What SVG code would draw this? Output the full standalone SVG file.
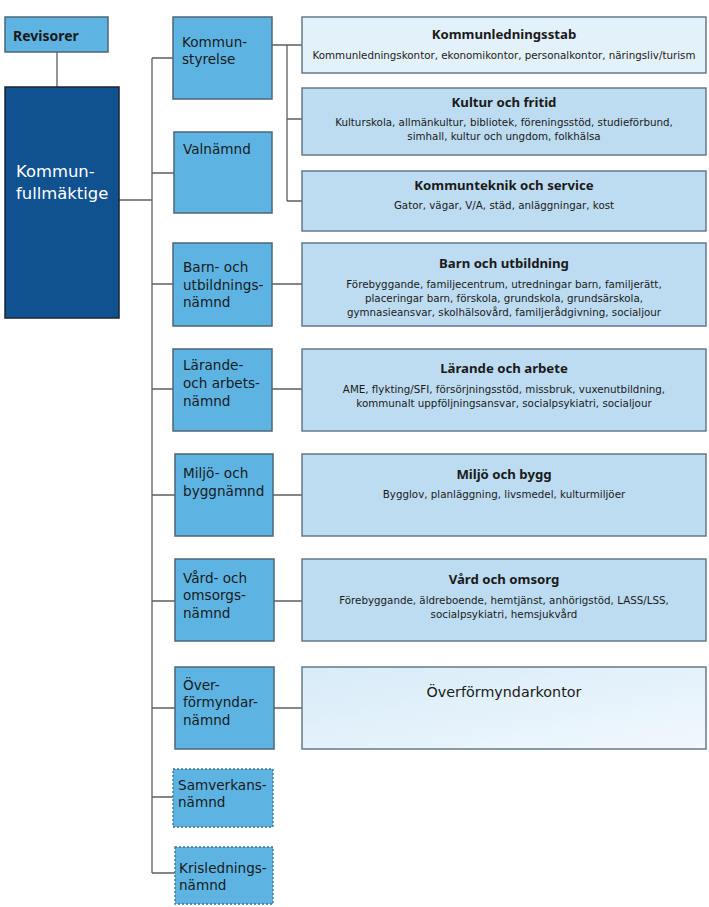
<svg xmlns="http://www.w3.org/2000/svg" width="709" height="907" viewBox="0 0 709 907">
<defs>
<linearGradient id="gOver" x1="0" y1="0" x2="1" y2="1">
<stop offset="0" stop-color="#d7ebf8"/>
<stop offset="1" stop-color="#f1f8fd"/>
</linearGradient>
<style>
text{font-family:"DejaVu Sans","Noto Sans",sans-serif;fill:#1a1a1a}
.top{fill:#5db4e3;stroke:#4f6677;stroke-width:1.5}
.dot{fill:#5db4e3;stroke:#3d6f95;stroke-width:1.3;stroke-dasharray:2 2}
.kf{fill:#10518f;stroke:#1b2530;stroke-width:1.5}
.dept{fill:#bddcf1;stroke:#66798a;stroke-width:1.5}
.light{fill:#e3f1fb;stroke:#66798a;stroke-width:1.5}
.lbl{font-size:13.6px}
.ttl{font-family:"Noto Sans","DejaVu Sans",sans-serif;font-size:13.2px;font-weight:bold;text-anchor:middle}
.sub{font-size:10.3px;text-anchor:middle}
.con{stroke:#5f5f5f;stroke-width:1.3;fill:none}
</style>
</defs>
<rect width="709" height="907" fill="#ffffff"/>
<g id="connectors">
<path class="con" d="M57 52V87"/>
<path class="con" d="M119 200H152"/>
<path class="con" d="M152 58V873"/>
<path class="con" d="M152 58H173M152 173H174M152 284H173M152 389H173M152 495H175M152 601H175M152 708H175M152 797H173M152 873H175"/>
<path class="con" d="M272 45H302M287 45V201M287 119H302M287 201H302"/>
<path class="con" d="M272 284H302M272 389H302M273 495H302M274 601H302M274 708H302"/>
</g>
<g id="revisorer">
<rect class="top" x="5" y="17" width="103" height="35"/>
<text x="13" y="41" style="font-family:'Noto Sans','DejaVu Sans',sans-serif;font-size:14px;font-weight:bold">Revisorer</text>
</g>
<g id="kommunfullmaktige">
<rect class="kf" x="5" y="87" width="114" height="231"/>
<text x="16" y="177" style="font-size:16.4px;fill:#ffffff">Kommun-</text>
<text x="16" y="199" style="font-size:16.4px;fill:#ffffff">fullmäktige</text>
</g>
<g id="kommunstyrelse">
<rect class="top" x="173" y="17" width="99" height="82"/>
<text class="lbl" x="182" y="47">Kommun-</text>
<text class="lbl" x="182" y="64">styrelse</text>
</g>
<g id="valnamnd">
<rect class="top" x="174" y="132" width="98" height="81"/>
<text class="lbl" x="183" y="154">Valnämnd</text>
</g>
<g id="barn-namnd">
<rect class="top" x="173" y="243" width="99" height="83"/>
<text class="lbl" x="183" y="272">Barn- och</text>
<text class="lbl" x="183" y="290">utbildnings-</text>
<text class="lbl" x="183" y="307">nämnd</text>
</g>
<g id="larande-namnd">
<rect class="top" x="173" y="349" width="99" height="82"/>
<text class="lbl" x="183" y="370">Lärande-</text>
<text class="lbl" x="183" y="388">och arbets-</text>
<text class="lbl" x="183" y="406">nämnd</text>
</g>
<g id="miljo-namnd">
<rect class="top" x="175" y="454" width="98" height="82"/>
<text class="lbl" x="183" y="478">Miljö- och</text>
<text class="lbl" x="183" y="496">byggnämnd</text>
</g>
<g id="vard-namnd">
<rect class="top" x="175" y="559" width="99" height="82"/>
<text class="lbl" x="183" y="583">Vård- och</text>
<text class="lbl" x="183" y="600">omsorgs-</text>
<text class="lbl" x="183" y="618">nämnd</text>
</g>
<g id="overformyndar-namnd">
<rect class="top" x="175" y="667" width="99" height="82"/>
<text class="lbl" x="183" y="690">Över-</text>
<text class="lbl" x="183" y="707">förmyndar-</text>
<text class="lbl" x="183" y="725">nämnd</text>
</g>
<g id="samverkans-namnd">
<rect class="dot" x="173" y="769" width="100" height="58"/>
<text class="lbl" x="178" y="790">Samverkans-</text>
<text class="lbl" x="178" y="807">nämnd</text>
</g>
<g id="krislednings-namnd">
<rect class="dot" x="175" y="847" width="98" height="57"/>
<text class="lbl" x="179" y="873">Krislednings-</text>
<text class="lbl" x="179" y="890">nämnd</text>
</g>
<g id="kommunledningsstab">
<rect class="light" x="302" y="17" width="404" height="56"/>
<text class="ttl" x="504" y="39">Kommunledningsstab</text>
<text class="sub" x="504" y="59">Kommunledningskontor, ekonomikontor, personalkontor, näringsliv/turism</text>
</g>
<g id="kultur">
<rect class="dept" x="302" y="88" width="404" height="67"/>
<text class="ttl" x="504" y="107">Kultur och fritid</text>
<text class="sub" x="504" y="126">Kulturskola, allmänkultur, bibliotek, föreningsstöd, studieförbund,</text>
<text class="sub" x="504" y="140">simhall, kultur och ungdom, folkhälsa</text>
</g>
<g id="kommunteknik">
<rect class="dept" x="302" y="171" width="404" height="60"/>
<text class="ttl" x="504" y="190">Kommunteknik och service</text>
<text class="sub" x="504" y="209">Gator, vägar, V/A, städ, anläggningar, kost</text>
</g>
<g id="barn">
<rect class="dept" x="302" y="243" width="404" height="83"/>
<text class="ttl" x="504" y="268">Barn och utbildning</text>
<text class="sub" x="504" y="288">Förebyggande, familjecentrum, utredningar barn, familjerätt,</text>
<text class="sub" x="504" y="302">placeringar barn, förskola, grundskola, grundsärskola,</text>
<text class="sub" x="504" y="316">gymnasieansvar, skolhälsovård, familjerådgivning, socialjour</text>
</g>
<g id="larande">
<rect class="dept" x="302" y="349" width="404" height="82"/>
<text class="ttl" x="504" y="373">Lärande och arbete</text>
<text class="sub" x="504" y="393">AME, flykting/SFI, försörjningsstöd, missbruk, vuxenutbildning,</text>
<text class="sub" x="504" y="407">kommunalt uppföljningsansvar, socialpsykiatri, socialjour</text>
</g>
<g id="miljo">
<rect class="dept" x="302" y="454" width="404" height="82"/>
<text class="ttl" x="504" y="479">Miljö och bygg</text>
<text class="sub" x="504" y="498">Bygglov, planläggning, livsmedel, kulturmiljöer</text>
</g>
<g id="vard">
<rect class="dept" x="302" y="559" width="404" height="82"/>
<text class="ttl" x="504" y="584">Vård och omsorg</text>
<text class="sub" x="504" y="604">Förebyggande, äldreboende, hemtjänst, anhörigstöd, LASS/LSS,</text>
<text class="sub" x="504" y="618">socialpsykiatri, hemsjukvård</text>
</g>
<g id="overformyndarkontor">
<rect x="302" y="667" width="404" height="82" fill="url(#gOver)" stroke="#66798a" stroke-width="1.5"/>
<text x="504" y="697" style="font-size:14.3px;text-anchor:middle">Överförmyndarkontor</text>
</g>
</svg>
